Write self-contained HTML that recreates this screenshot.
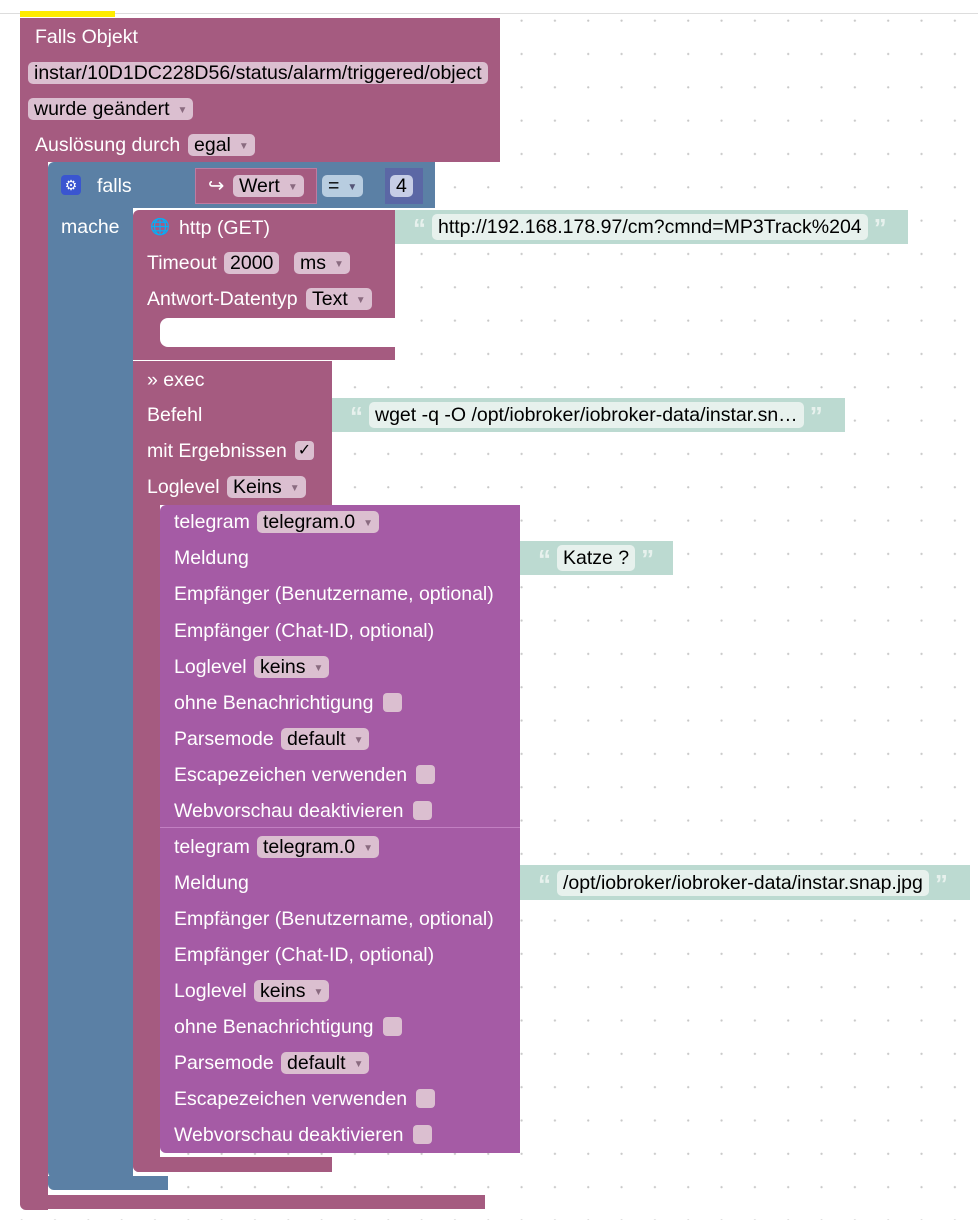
<!DOCTYPE html>
<html><head><meta charset="utf-8"><style>
body{margin:0;width:978px;height:1220px;overflow:hidden;background:#fff;font-family:"Liberation Sans",sans-serif;position:relative}
.grid{position:absolute;left:0;top:14px;width:978px;height:1206px;background-image:radial-gradient(circle,#c8c8c8 0.9px,transparent 1.3px);background-size:33.33px 33.33px;background-position:5px -10px}
.b{position:absolute}
.t{position:absolute;color:#fff;font-size:19.5px;line-height:22px;white-space:nowrap}
.f{position:absolute;background:#dbbfd0;color:#000;font-size:19.5px;height:22px;line-height:22px;padding:0 6px;border-radius:5px;white-space:nowrap}
.a{font-size:10px;color:#8a6b80;margin-left:8px;vertical-align:2px}
.ck{position:absolute;width:19px;height:19px;background:#dbbfd0;border-radius:4px}
.M{background:#a55b80}.B{background:#5b80a5}.P{background:#a55ba5}
.G{position:absolute;background:#bcdad1;display:flex;align-items:center;padding-left:12px;box-sizing:border-box}
.sf{background:#e7f1ed;color:#000;font-size:19.5px;line-height:26px;height:26px;padding:0 6px;border-radius:5px;white-space:nowrap}
.q{color:#e7f1ed;font-size:26px;font-weight:bold;line-height:20px;height:18px;overflow:hidden;font-family:"Liberation Sans",sans-serif;margin:0 6px}
</style></head><body>
<div class="grid"></div>
<div class="b" style="left:0;top:13px;width:978px;height:1px;background:#ddd"></div>
<div class="b" style="left:20px;top:11px;width:95px;height:6px;background:#ffec00"></div>

<!-- outer block -->
<div class="b M" style="left:20px;top:18px;width:480px;height:144px"></div>
<div class="b M" style="left:20px;top:160px;width:28px;height:1050px;border-radius:0 0 0 6px"></div>
<div class="b M" style="left:20px;top:1195px;width:465px;height:14px;border-radius:0 0 0 6px"></div>
<div class="t" style="left:35px;top:26px">Falls Objekt</div>
<div class="f" style="left:28px;top:62px">instar/10D1DC228D56/status/alarm/triggered/object</div>
<div class="f" style="left:28px;top:98px">wurde geändert<span class="a">▼</span></div>
<div class="t" style="left:35px;top:134px">Auslösung durch</div>
<div class="f" style="left:188px;top:134px">egal<span class="a">▼</span></div>

<!-- blue if -->
<div class="b B" style="left:48px;top:162px;width:387px;height:46px;border-radius:6px 0 0 0"></div>
<div class="b B" style="left:48px;top:200px;width:85px;height:978px;border-radius:0 0 0 6px"></div>
<div class="b B" style="left:48px;top:1176px;width:120px;height:14px;border-radius:0 0 0 6px"></div>
<div class="b" style="left:61px;top:175px;width:20px;height:20px;background:#3a55d0;border-radius:4px;color:#fff;font-size:14px;line-height:20px;text-align:center">⚙</div>
<div class="t" style="left:97px;top:175px">falls</div>
<div class="t" style="left:61px;top:216px">mache</div>
<div class="b M" style="left:195px;top:168px;width:122px;height:36px;border:1px solid #c07aa0;box-sizing:border-box"></div>
<div class="t" style="left:208px;top:175px">↪</div>
<div class="f" style="left:233px;top:175px">Wert<span class="a">▼</span></div>
<div class="f" style="left:322px;top:175px;background:#b8cde0">=<span class="a" style="color:#557">▼</span></div>
<div class="b" style="left:385px;top:168px;width:38px;height:36px;background:#5b67a5"></div>
<div class="f" style="left:390px;top:175px;background:#c6cde6">4</div>

<!-- http -->
<div class="b M" style="left:133px;top:210px;width:262px;height:150px;border-radius:6px 0 0 0"></div>
<div class="b" style="left:160px;top:318px;width:235px;height:29px;background:#fff;border-radius:8px 0 0 8px"></div>
<div class="t" style="left:150px;top:217px;font-size:16px">🌐</div>
<div class="t" style="left:179px;top:217px">http (GET)</div>
<div class="t" style="left:147px;top:252px">Timeout</div>
<div class="f" style="left:224px;top:252px">2000</div>
<div class="f" style="left:294px;top:252px">ms<span class="a">▼</span></div>
<div class="t" style="left:147px;top:288px">Antwort-Datentyp</div>
<div class="f" style="left:306px;top:288px">Text<span class="a">▼</span></div>
<div class="G" style="left:395px;top:210px;width:513px;height:34px"><span class="q">“</span><span class="sf">http://192.168.178.97/cm?cmnd=MP3Track%204</span><span class="q">”</span></div>

<!-- exec -->
<div class="b M" style="left:133px;top:361px;width:199px;height:144px"></div>
<div class="b M" style="left:133px;top:500px;width:27px;height:672px;border-radius:0 0 0 6px"></div>
<div class="b M" style="left:133px;top:1157px;width:199px;height:15px;border-radius:0 0 0 6px"></div>
<div class="t" style="left:147px;top:369px">» exec</div>
<div class="t" style="left:147px;top:404px">Befehl</div>
<div class="t" style="left:147px;top:440px">mit Ergebnissen</div>
<div class="ck" style="left:295px;top:441px;color:#000;font-size:16px;line-height:19px;text-align:center">✓</div>
<div class="t" style="left:147px;top:476px">Loglevel</div>
<div class="f" style="left:227px;top:476px">Keins<span class="a">▼</span></div>
<div class="G" style="left:332px;top:398px;width:513px;height:34px"><span class="q">“</span><span class="sf">wget -q -O /opt/iobroker/iobroker-data/instar.sn…</span><span class="q">”</span></div>

<!-- telegram blocks -->
<div class="b P" style="left:160px;top:505px;width:360px;height:323px;border-radius:6px 0 0 0"></div>
<div class="b" style="left:160px;top:827px;width:360px;height:1px;background:#c27fc2"></div>
<div class="b P" style="left:160px;top:828px;width:360px;height:325px;border-radius:0 0 0 6px"></div>

<div class="t" style="left:174px;top:511px">telegram</div>
<div class="f" style="left:257px;top:511px">telegram.0<span class="a">▼</span></div>
<div class="t" style="left:174px;top:547px">Meldung</div>
<div class="t" style="left:174px;top:583px">Empfänger (Benutzername, optional)</div>
<div class="t" style="left:174px;top:620px">Empfänger (Chat-ID, optional)</div>
<div class="t" style="left:174px;top:656px">Loglevel</div>
<div class="f" style="left:254px;top:656px">keins<span class="a">▼</span></div>
<div class="t" style="left:174px;top:692px">ohne Benachrichtigung</div>
<div class="ck" style="left:383px;top:693px"></div>
<div class="t" style="left:174px;top:728px">Parsemode</div>
<div class="f" style="left:281px;top:728px">default<span class="a">▼</span></div>
<div class="t" style="left:174px;top:764px">Escapezeichen verwenden</div>
<div class="ck" style="left:416px;top:765px"></div>
<div class="t" style="left:174px;top:800px">Webvorschau deaktivieren</div>
<div class="ck" style="left:413px;top:801px"></div>
<div class="G" style="left:520px;top:541px;width:153px;height:34px"><span class="q">“</span><span class="sf">Katze ?</span><span class="q">”</span></div>

<div class="t" style="left:174px;top:836px">telegram</div>
<div class="f" style="left:257px;top:836px">telegram.0<span class="a">▼</span></div>
<div class="t" style="left:174px;top:872px">Meldung</div>
<div class="t" style="left:174px;top:908px">Empfänger (Benutzername, optional)</div>
<div class="t" style="left:174px;top:944px">Empfänger (Chat-ID, optional)</div>
<div class="t" style="left:174px;top:980px">Loglevel</div>
<div class="f" style="left:254px;top:980px">keins<span class="a">▼</span></div>
<div class="t" style="left:174px;top:1016px">ohne Benachrichtigung</div>
<div class="ck" style="left:383px;top:1017px"></div>
<div class="t" style="left:174px;top:1052px">Parsemode</div>
<div class="f" style="left:281px;top:1052px">default<span class="a">▼</span></div>
<div class="t" style="left:174px;top:1088px">Escapezeichen verwenden</div>
<div class="ck" style="left:416px;top:1089px"></div>
<div class="t" style="left:174px;top:1124px">Webvorschau deaktivieren</div>
<div class="ck" style="left:413px;top:1125px"></div>
<div class="G" style="left:520px;top:865px;width:450px;height:35px"><span class="q">“</span><span class="sf">/opt/iobroker/iobroker-data/instar.snap.jpg</span><span class="q">”</span></div>
</body></html>
